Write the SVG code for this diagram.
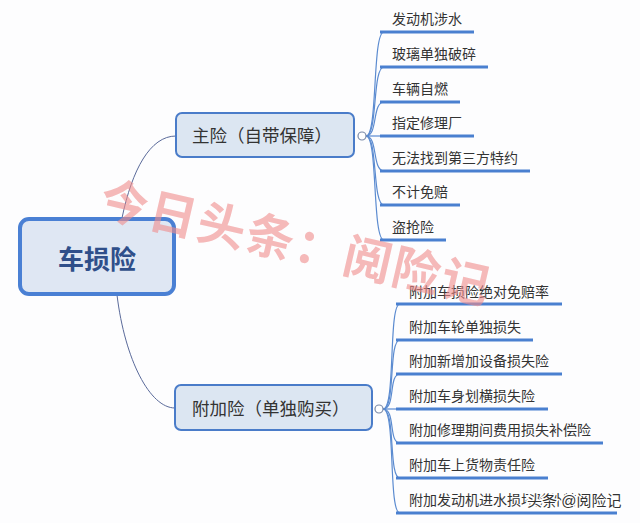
<svg xmlns="http://www.w3.org/2000/svg" width="640" height="523" viewBox="0 0 640 523">
<style>
.bg{fill:#fdfdfe}
.root{fill:#dfe7f3;stroke:#4a80d4;stroke-width:4}
.main{fill:#dce6f2;stroke:#4a7cc9;stroke-width:2}
.rt{font-family:"Liberation Sans","Noto Sans CJK SC",sans-serif;font-size:26px;font-weight:bold;fill:#2f4f8a}
.mt{font-family:"Liberation Sans","Noto Sans CJK SC",sans-serif;font-size:17.5px;fill:#333}
.ct{font-family:"Liberation Sans","Noto Sans CJK SC",sans-serif;font-size:14px;fill:#333}
.ul{stroke:#4a80d0;stroke-width:3;fill:none}
.br{stroke:#5b8bd0;stroke-width:1.2;fill:none}
.rc{stroke:#5a6a9a;stroke-width:1;fill:none}
.knob{fill:#fff;stroke:#7a8aa8;stroke-width:1.2}
.wm{font-family:"Noto Sans CJK SC",sans-serif;font-size:48px;font-weight:bold;fill:#f08c8c;opacity:0.6}
.wm2{font-family:"Liberation Sans","Noto Sans CJK SC",sans-serif;font-size:15px;fill:#333;stroke:#fff;stroke-width:3;paint-order:stroke}
</style>
<rect class="bg" x="0" y="0" width="640" height="523"/>
<g id="connectors">
<path class="rc" d="M122,218 C132,170 150,136 176,136"/>
<path class="rc" d="M117,295 C125,360 150,408 175,408"/>
<g id="b1">
<path class="br" d="M366,136 C378,136 372,32 384,32"/>
<path class="br" d="M366,136 C378,136 372,67 384,67"/>
<path class="br" d="M366,136 C378,136 372,102 384,102"/>
<path class="br" d="M366,136 L384,136"/>
<path class="br" d="M366,136 C378,136 372,171 384,171"/>
<path class="br" d="M366,136 C378,136 372,205 384,205"/>
<path class="br" d="M366,136 C378,136 372,240 384,240"/>
</g>
<g id="b2">
<path class="br" d="M383,409 C396,409 388,304 400,304"/>
<path class="br" d="M383,409 C396,409 388,340 400,340"/>
<path class="br" d="M383,409 C396,409 388,374 400,374"/>
<path class="br" d="M383,409 L400,409"/>
<path class="br" d="M383,409 C396,409 388,443 400,443"/>
<path class="br" d="M383,409 C396,409 388,478 400,478"/>
<path class="br" d="M383,409 C396,409 388,513 400,513"/>
</g>
</g>
<g id="root">
<rect class="root" x="20" y="219" width="154" height="75" rx="9"/>
<text class="rt" x="97" y="269" text-anchor="middle">车损险</text>
</g>
<g id="main1">
<rect class="main" x="176" y="113" width="178" height="44" rx="6"/>
<text class="mt" x="192" y="142">主险（自带保障）</text>
<circle class="knob" cx="362" cy="136" r="4"/>
</g>
<g id="main2">
<rect class="main" x="175" y="385" width="197" height="45" rx="6"/>
<text class="mt" x="192" y="415">附加险（单独购买）</text>
<circle class="knob" cx="379" cy="409" r="4"/>
</g>
<g id="c1">
<g id="c1-1"><line class="ul" x1="380" y1="32" x2="474" y2="32"/><text class="ct" x="392" y="24">发动机涉水</text></g>
<g id="c1-2"><line class="ul" x1="380" y1="67" x2="488" y2="67"/><text class="ct" x="392" y="59">玻璃单独破碎</text></g>
<g id="c1-3"><line class="ul" x1="380" y1="102" x2="460" y2="102"/><text class="ct" x="392" y="94">车辆自燃</text></g>
<g id="c1-4"><line class="ul" x1="380" y1="136" x2="474" y2="136"/><text class="ct" x="392" y="128">指定修理厂</text></g>
<g id="c1-5"><line class="ul" x1="380" y1="171" x2="530" y2="171"/><text class="ct" x="392" y="163">无法找到第三方特约</text></g>
<g id="c1-6"><line class="ul" x1="380" y1="205" x2="460" y2="205"/><text class="ct" x="392" y="197">不计免赔</text></g>
<g id="c1-7"><line class="ul" x1="380" y1="240" x2="446" y2="240"/><text class="ct" x="392" y="232">盗抢险</text></g>
</g>
<g id="c2">
<g id="c2-1"><line class="ul" x1="396" y1="304" x2="562" y2="304"/><text class="ct" x="409" y="297">附加车损险绝对免赔率</text></g>
<g id="c2-2"><line class="ul" x1="396" y1="340" x2="533" y2="340"/><text class="ct" x="409" y="332">附加车轮单独损失</text></g>
<g id="c2-3"><line class="ul" x1="396" y1="374" x2="562" y2="374"/><text class="ct" x="409" y="366">附加新增加设备损失险</text></g>
<g id="c2-4"><line class="ul" x1="396" y1="409" x2="548" y2="409"/><text class="ct" x="409" y="401">附加车身划横损失险</text></g>
<g id="c2-5"><line class="ul" x1="396" y1="443" x2="603" y2="443"/><text class="ct" x="409" y="435">附加修理期间费用损失补偿险</text></g>
<g id="c2-6"><line class="ul" x1="396" y1="478" x2="548" y2="478"/><text class="ct" x="409" y="470">附加车上货物责任险</text></g>
<g id="c2-7"><line class="ul" x1="396" y1="513" x2="617" y2="513"/><text class="ct" x="409" y="505">附加发动机进水损坏除外特约</text></g>
</g>
<text class="wm" x="97" y="215" transform="rotate(13 97 215)" letter-spacing="2">今日头条：阅险记</text>
<text class="wm2" x="527" y="506">头条 @阅险记</text>
</svg>
